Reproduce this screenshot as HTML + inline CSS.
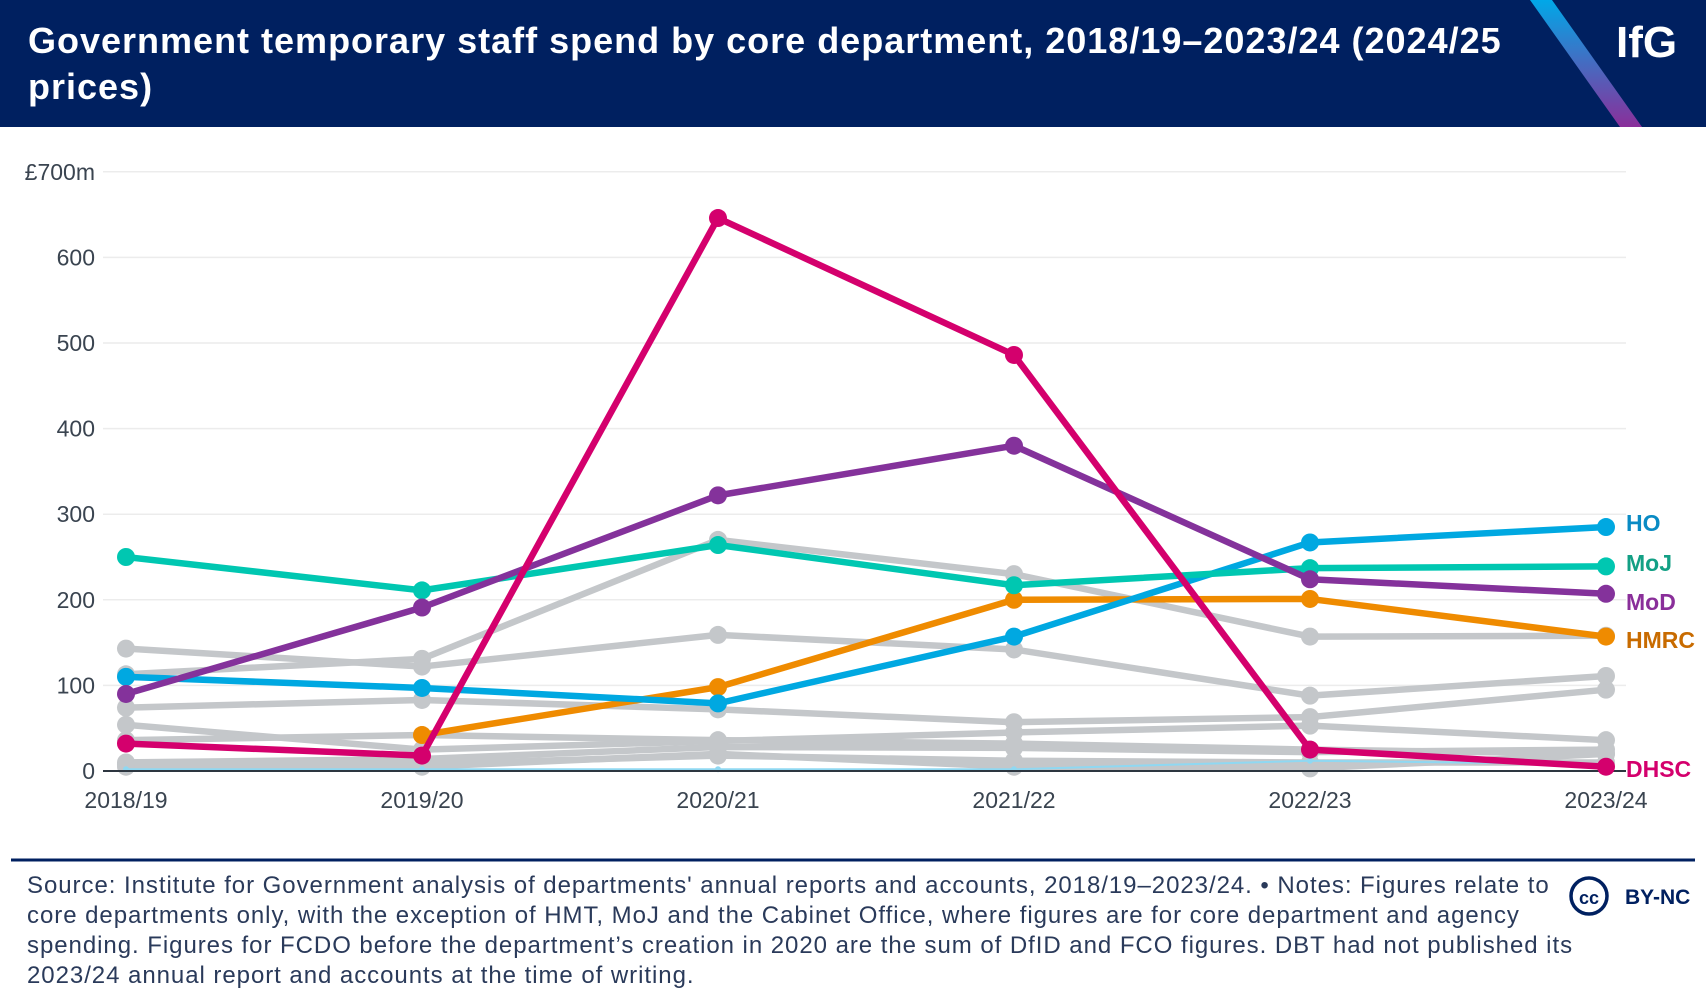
<!DOCTYPE html>
<html><head><meta charset="utf-8">
<style>
html,body{margin:0;padding:0;background:#fff;}
body{width:1706px;height:1008px;overflow:hidden;position:relative;font-family:"Liberation Sans",sans-serif;}
#hdr{position:absolute;left:0;top:0;width:1706px;height:127px;background:#002060;overflow:hidden;}
#title{position:absolute;left:28px;top:18px;width:1560px;color:#fff;font-weight:bold;font-size:36px;line-height:46px;white-space:nowrap;letter-spacing:1px;}
#logo{position:absolute;left:1616px;top:18px;color:#fff;font-weight:bold;font-size:44px;}
#foot{position:absolute;left:27px;top:871px;width:1580px;color:#2a3a5a;font-size:24px;line-height:30px;white-space:nowrap;letter-spacing:0.95px;}
</style></head><body>
<div id="hdr">
<svg width="1706" height="127" style="position:absolute;left:0;top:0">
<defs><linearGradient id="gs" x1="0" y1="0" x2="0" y2="1"><stop offset="0" stop-color="#00a8e8"/><stop offset="1" stop-color="#8a2f9a"/></linearGradient></defs>
<polygon points="1530,0 1552,0 1642,127 1620,127" fill="url(#gs)"/>
</svg>
<div id="title">Government temporary staff spend by core department, 2018/19–2023/24 (2024/25<br>prices)</div>
<div id="logo">IfG</div>
</div>
<svg id="chart" width="1706" height="1008" style="position:absolute;left:0;top:0"></svg>
<div id="foot">Source: Institute for Government analysis of departments' annual reports and accounts, 2018/19–2023/24. • Notes: Figures relate to<br>core departments only, with the exception of HMT, MoJ and the Cabinet Office, where figures are for core department and agency<br>spending. Figures for FCDO before the department’s creation in 2020 are the sum of DfID and FCO figures. DBT had not published its<br>2023/24 annual report and accounts at the time of writing.</div>
<script>
const categories=["2018/19","2019/20","2020/21","2021/22","2022/23","2023/24"];
const yTicks=[0,100,200,300,400,500,600,700];
const yTickLabels=["0","100","200","300","400","500","600","£700m"];
const greyA=[113,131,270,230,157,158];
const greyB=[143,122,159,142,88,111];
const greyC=[74,83,72,57,63,95];
const greyD=[54,25,35,45,53,36];
const greyE=[36,42,36,32,25,20];
const greyF=[10,14,28,27,22,25];
const greyG=[8,8,18,12,10,10];
const greyH=[5,5,20,5,3,20];
const lightBlue=[2,2,2,2,12,8];
const hoVals=[110,97,79,157,267,285];
const mojVals=[250,211,264,217,237,239];
const modVals=[90,191,322,380,224,207];
const hmrcVals=[null,42,98,200,201,157];
const dhscVals=[32,18,646,486,25,5];
const labelNames=["HO","MoJ","MoD","HMRC","DHSC"];

const NS="http://www.w3.org/2000/svg";
const svg=document.getElementById('chart');
const x0=126,dx=296,y0=771,per=0.856;
function xs(i){return x0+i*dx;}
function ys(v){return y0-v*per;}
function mk(t,a){const e=document.createElementNS(NS,t);for(const k in a)e.setAttribute(k,a[k]);svg.appendChild(e);return e;}

yTicks.forEach((t,i)=>{
 if(t>0){const g=mk('line',{x1:103,x2:1626,y1:ys(t),y2:ys(t),stroke:'#ececec','stroke-width':1.5});
 
 }
 const l=mk('text',{x:95,y:ys(t)+8,'text-anchor':'end','font-size':23,fill:'#3a4450','font-family':'Liberation Sans, sans-serif'});
 l.textContent=yTickLabels[i];
 
 
});
categories.forEach((c,i)=>{
 const l=mk('text',{x:xs(i),y:808,'text-anchor':'middle','font-size':23,fill:'#3a4450','font-family':'Liberation Sans, sans-serif'});
 l.textContent=c;
 
 
});

function series(vals,color,name,w,r){
 let d='';vals.forEach((v,i)=>{if(v==null)return;d+=(d?'L':'M')+xs(i)+','+ys(v);});
 const p=mk('path',{d:d,fill:'none',stroke:color,'stroke-width':w,'stroke-linejoin':'round'});
 
 
 vals.forEach((v,i)=>{if(v==null)return;
  const c=mk('circle',{cx:xs(i),cy:ys(v),r:r,fill:color});
  
  
 });
}
const grey='#c4c7ca';
[greyH,greyG,greyF,greyE,greyD,greyC,greyB,greyA].forEach((g,i)=>series(g,grey,'other-dept-'+(i+1),6.5,9));
series(lightBlue,'#8fd8f2','other-dept-light',2,3);
const ax=mk('line',{x1:103,x2:1626,y1:y0,y2:y0,stroke:'#2d3640','stroke-width':2});


series(hmrcVals,'#ef8b00','hmrc',6.5,9);
series(hoVals,'#00a8e1','ho',6.5,9);
series(mojVals,'#00c7b1','moj',6.5,9);
series(modVals,'#84329b','mod',6.5,9);
series(dhscVals,'#d4006d','dhsc',6.5,9);

const lab=[[hoVals,'#0a8bc4',523],[mojVals,'#13a085',563],[modVals,'#8a2f9a',602],[hmrcVals,'#c86b00',640],[dhscVals,'#d4006d',769]];
lab.forEach((L,i)=>{
 const t=mk('text',{x:1626,y:L[2]+8,'font-size':23,'font-weight':'bold',fill:L[1],'font-family':'Liberation Sans, sans-serif'});
 t.textContent=labelNames[i];
 
 
});
const fl=mk('line',{x1:11,x2:1695,y1:860,y2:860,stroke:'#002060','stroke-width':3});


const cc=mk('circle',{cx:1589,cy:896,r:18,fill:'#fff',stroke:'#002060','stroke-width':3.5});


const cct=mk('text',{x:1589,y:904,'text-anchor':'middle','font-size':18,'font-weight':'bold',fill:'#002060','font-family':'Liberation Sans, sans-serif'});
cct.textContent='cc';


const by=mk('text',{x:1625,y:904,'font-size':21,'font-weight':'bold',fill:'#002060','font-family':'Liberation Sans, sans-serif'});
by.textContent='BY-NC';


</script>
</body></html>
